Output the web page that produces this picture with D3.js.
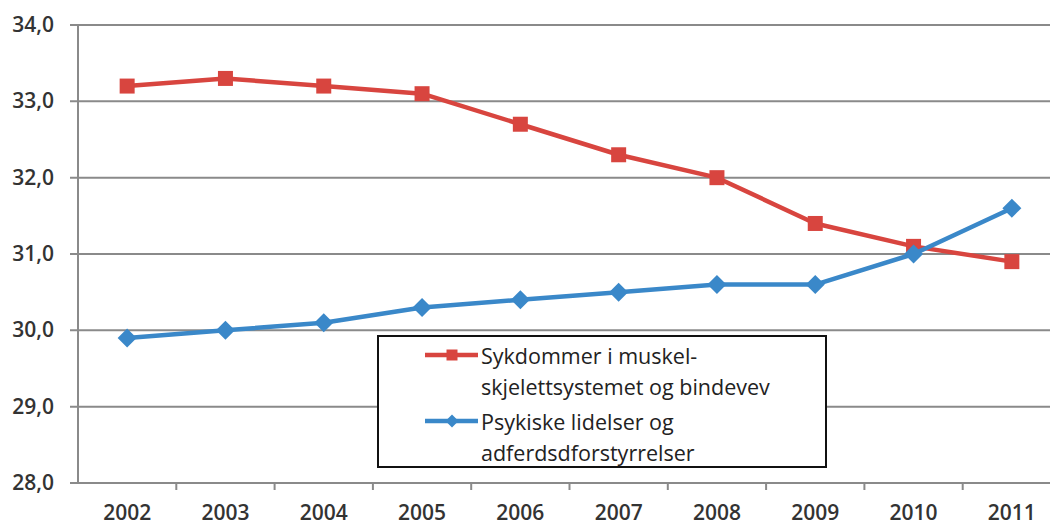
<!DOCTYPE html>
<html>
<head>
<meta charset="utf-8">
<script src="https://cdn.jsdelivr.net/npm/d3@7"></script>
<style>
  body { margin: 0; background: #fff; }
  svg { display: block; }
  text { font-family: "Open Sans", "DejaVu Sans", sans-serif; fill: #333; }
</style>
</head>
<body>
<svg id="chart" width="1050" height="525"></svg>
<script>
// data
var years = ["2002", "2003", "2004", "2005", "2006", "2007", "2008", "2009", "2010", "2011"];
var muskel = [33.2, 33.3, 33.2, 33.1, 32.7, 32.3, 32.0, 31.4, 31.1, 30.9];
var psykisk = [29.9, 30.0, 30.1, 30.3, 30.4, 30.5, 30.6, 30.6, 31.0, 31.6];
var yTicks = [28, 29, 30, 31, 32, 33, 34];
var legendLines = [
  ["Sykdommer i muskel-", "skjelettsystemet og bindevev"],
  ["Psykiske lidelser og", "adferdsdforstyrrelser"]
];

var red = "#d8453f",
    blue = "#3a88c9",
    grid = "#8a8a8a";

var svg = d3.select("#chart");

var x = d3.scaleBand()
    .domain(years)
    .range([78, 1061]);

var y = d3.scaleLinear()
    .domain([28, 34])
    .range([483, 25]);

// square and diamond markers of a given width
function squareSym(w) {
    var h = w / 2;
    return "M" + (-h) + "," + (-h) + "H" + h + "V" + h + "H" + (-h) + "Z";
}
function diamondSym(w) {
    var h = w / 2;
    return "M0," + (-h) + "L" + h + ",0L0," + h + "L" + (-h) + ",0Z";
}

// gridlines
svg.append("g")
  .selectAll("line")
  .data(yTicks)
  .enter()
  .append("line")
    .attr("x1", 70)
    .attr("x2", 1050)
    .attr("y1", function(d) { return y(d); })
    .attr("y2", function(d) { return y(d); })
    .style("stroke", grid)
    .style("stroke-width", 2);

// y axis line
svg.append("line")
    .attr("x1", 78).attr("x2", 78)
    .attr("y1", y(34)).attr("y2", y(28))
    .style("stroke", grid)
    .style("stroke-width", 2);

// x ticks between categories
svg.append("g")
  .selectAll("line")
  .data(years.slice(1))
  .enter()
  .append("line")
    .attr("x1", function(d) { return x(d); })
    .attr("x2", function(d) { return x(d); })
    .attr("y1", y(28))
    .attr("y2", y(28) + 7)
    .style("stroke", grid)
    .style("stroke-width", 2);

// y labels
svg.append("g")
  .selectAll("text")
  .data(yTicks)
  .enter()
  .append("text")
    .attr("x", 54)
    .attr("y", function(d) { return y(d) + 7; })
    .attr("text-anchor", "end")
    .style("font-size", "21px")
    .style("font-weight", "600")
    .text(function(d) { return d3.format(".1f")(d).replace(".", ","); });

// x labels
svg.append("g")
  .selectAll("text")
  .data(years)
  .enter()
  .append("text")
    .attr("x", function(d) { return x(d) + x.bandwidth() / 2; })
    .attr("y", 520)
    .attr("text-anchor", "middle")
    .style("font-size", "21px")
    .style("font-weight", "600")
    .text(function(d) { return d; });

var line = d3.line()
    .x(function(d, i) { return x(years[i]) + x.bandwidth() / 2; })
    .y(function(d) { return y(d); });

function drawSeries(values, color, sym) {
    svg.append("path")
        .datum(values)
        .attr("d", line)
        .style("fill", "none")
        .style("stroke", color)
        .style("stroke-width", 4.5)
        .style("stroke-linejoin", "round");

    svg.append("g")
      .selectAll("path")
      .data(values)
      .enter()
      .append("path")
        .attr("d", sym)
        .attr("transform", function(d, i) {
            return "translate(" + (x(years[i]) + x.bandwidth() / 2) + "," + y(d) + ")";
        })
        .style("fill", color);
}

drawSeries(muskel, red, squareSym(15));
drawSeries(psykisk, blue, diamondSym(19));

// legend
var legend = svg.append("g");
legend.append("rect")
    .attr("x", 378).attr("y", 336)
    .attr("width", 448).attr("height", 131)
    .style("fill", "#fff")
    .style("stroke", "#111")
    .style("stroke-width", 2);

var legendItems = [
  { color: red, sym: squareSym(11), lines: legendLines[0], y: 355 },
  { color: blue, sym: diamondSym(13), lines: legendLines[1], y: 421 }
];

legendItems.forEach(function(item) {
    legend.append("line")
        .attr("x1", 425).attr("x2", 478)
        .attr("y1", item.y).attr("y2", item.y)
        .style("stroke", item.color)
        .style("stroke-width", 4.5);
    legend.append("path")
        .attr("d", item.sym)
        .attr("transform", "translate(452," + item.y + ")")
        .style("fill", item.color);
    legend.selectAll(null)
        .data(item.lines)
        .enter()
        .append("text")
        .attr("x", 481)
        .attr("y", function(d, i) { return item.y + 9 + i * 31; })
        .style("font-size", "21.5px")
        .style("fill", "#222")
        .text(function(d) { return d; });
});
</script>
</body>
</html>
